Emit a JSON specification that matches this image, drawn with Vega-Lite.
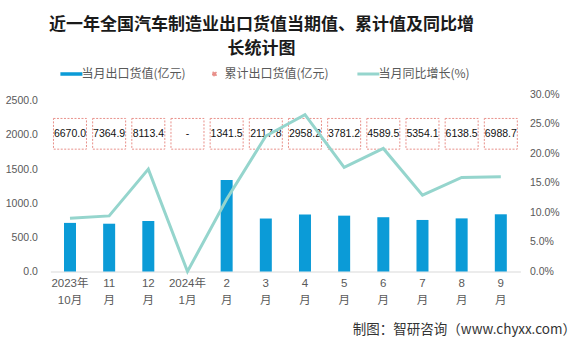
{
  "$schema": "https://vega.github.io/schema/vega-lite/v6.json",
  "width": 470,
  "height": 177.5,
  "autosize": {"type": "none"},
  "padding": {"left": 50.4, "top": 94, "right": 58.6, "bottom": 69.5},
  "background": "white",
  "title": {
    "text": ["近一年全国汽车制造业出口货值当期值、累计值及同比增", "长统计图"],
    "fontSize": 17,
    "font": "Noto Sans CJK SC",
    "fontWeight": "bold",
    "color": "#1a1a1a",
    "anchor": "middle",
    "dx": -24,
    "lineHeight": 24,
    "offset": 10
  },
  "config": {
    "view": {"stroke": null},
    "font": "Liberation Sans, Noto Sans CJK SC",
    "axisY": {
      "grid": false,
      "domain": false,
      "ticks": false,
      "labelOverlap": false,
      "labelFontSize": 10.5,
      "labelColor": "#595959"
    }
  },
  "data": {
    "values": [
      {"m": "2023年\n10月", "v": 712, "c": "6670.0", "r": 9.0},
      {"m": "11\n月", "v": 700, "c": "7364.9", "r": 9.4},
      {"m": "12\n月", "v": 740, "c": "8113.4", "r": 17.3},
      {"m": "2024年\n1月", "v": 0, "c": "-", "r": 0},
      {"m": "2\n月", "v": 1341.5, "c": "1341.5", "r": 12.2},
      {"m": "3\n月", "v": 776, "c": "2117.8", "r": 22.9},
      {"m": "4\n月", "v": 835, "c": "2958.2", "r": 26.5},
      {"m": "5\n月", "v": 818, "c": "3781.2", "r": 17.6},
      {"m": "6\n月", "v": 795, "c": "4589.5", "r": 20.8},
      {"m": "7\n月", "v": 755, "c": "5354.1", "r": 12.9},
      {"m": "8\n月", "v": 778, "c": "6138.5", "r": 15.9},
      {"m": "9\n月", "v": 838, "c": "6988.7", "r": 16.0}
    ]
  },
  "encoding": {
    "x": {
      "field": "m",
      "type": "nominal",
      "sort": null,
      "scale": {"paddingInner": 0, "paddingOuter": 0},
      "axis": {
        "title": "制图：智研咨询（www.chyxx.com）",
        "labelExpr": "split(datum.value, '\\n')",
        "labelAngle": 0,
        "labelFontSize": 11.5,
        "labelColor": "#595959",
        "labelLineHeight": 16.5,
        "labelPadding": 6,
        "ticks": false,
        "domainColor": "#D9D9D9",
        "domainWidth": 1,
        "titleFont": "Noto Sans CJK SC",
        "titleFontSize": 13.5,
        "titleFontWeight": "normal",
        "titleColor": "#333333",
        "titleAlign": "right",
        "titleAnchor": "end",
        "titleX": 525,
        "titleY": 58,
        "titleBaseline": "middle"
      }
    }
  },
  "layer": [
    {
      "layer": [
        {
          "mark": {"type": "bar", "width": 12},
          "encoding": {
            "y": {
              "field": "v",
              "type": "quantitative",
              "scale": {"domain": [0, 2500]},
              "axis": {"title": null, "values": [0, 500, 1000, 1500, 2000, 2500], "format": ".1f", "labelPadding": 13}
            },
            "color": {
              "datum": "当月出口货值(亿元)",
              "scale": {
                "domain": ["当月出口货值(亿元)", "累计出口货值(亿元)", "当月同比增长(%)"],
                "range": ["#0B9BD7", "#E8908A", "#95D5CD"]
              },
              "legend": {
                "orient": "none",
                "legendX": 15,
                "legendY": -26,
                "direction": "horizontal",
                "title": null,
                "labelFont": "Noto Sans CJK SC",
                "labelFontSize": 12,
                "labelColor": "#595959",
                "symbolSize": 484,
                "labelOffset": 4,
                "columnPadding": 22,
                "encode": {
                  "symbols": {
                    "update": {
                      "shape": {"signal": "datum.value === '当月同比增长(%)' ? 'M-1,0H1' : datum.value === '累计出口货值(亿元)' ? 'M-0.17,-0.17H0.17V0.17H-0.17Z' : 'M-1,-0.16H1V0.16H-1Z'"},
                      "fill": {"signal": "datum.value === '当月出口货值(亿元)' ? '#0B9BD7' : datum.value === '累计出口货值(亿元)' ? '#ffffff' : 'transparent'"},
                      "stroke": {"signal": "datum.value === '当月出口货值(亿元)' ? 'transparent' : datum.value === '累计出口货值(亿元)' ? '#E8908A' : '#95D5CD'"},
                      "strokeWidth": {"signal": "datum.value === '当月同比增长(%)' ? 3 : 1"},
                      "strokeDash": {"signal": "datum.value === '累计出口货值(亿元)' ? [1.5, 1.5] : []"},
                      "opacity": {"value": 1}
                    }
                  }
                }
              }
            }
          }
        },
        {
          "mark": {"type": "bar", "width": 33, "fill": "#ffffff", "stroke": "#E8908A", "strokeDash": [2, 1.5], "strokeWidth": 1},
          "encoding": {
            "y": {"datum": 1792, "type": "quantitative", "axis": {"title": null, "values": [0, 500, 1000, 1500, 2000, 2500], "format": ".1f", "labelPadding": 13}},
            "y2": {"datum": 2242}
          }
        },
        {
          "mark": {"type": "text", "fontSize": 10.5, "color": "#111111", "font": "Liberation Sans"},
          "encoding": {
            "y": {"datum": 2020, "type": "quantitative", "axis": {"title": null, "values": [0, 500, 1000, 1500, 2000, 2500], "format": ".1f", "labelPadding": 13}},
            "text": {"field": "c"}
          }
        }
      ]
    },
    {
      "mark": {"type": "line", "color": "#95D5CD", "strokeWidth": 3},
      "encoding": {
        "y": {
          "field": "r",
          "type": "quantitative",
          "scale": {"domain": [0, 30]},
          "axis": {
            "orient": "right",
            "title": null,
            "values": [0, 5, 10, 15, 20, 25, 30],
            "labelExpr": "format(datum.value, '.1f') + '%'",
            "labelPadding": 9
          }
        }
      }
    }
  ],
  "resolve": {"scale": {"y": "independent"}}
}
